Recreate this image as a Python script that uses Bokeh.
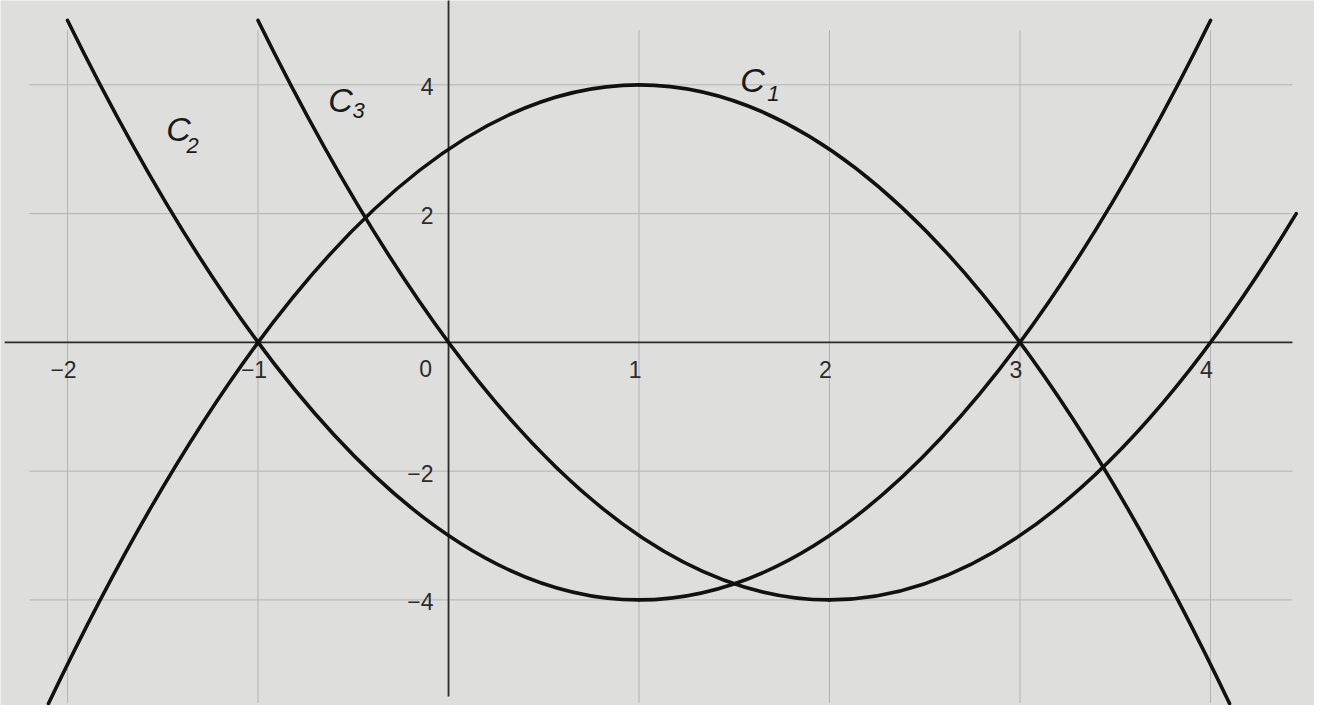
from bokeh.plotting import figure
from bokeh.models import Range1d
from bokeh.core.properties import value
from bokeh.embed import file_html
from bokeh.resources import INLINE

# ---- data: each parabola's start point, vertex and end point ----
c1_start = (-2.1, -5.61)
c1_vertex = (1.0, 4.0)
c1_end = (4.1, -5.61)

c2_start = (-2.0, 5.0)
c2_vertex = (1.0, -4.0)
c2_end = (4.0, 5.0)

c3_start = (-1.0, 5.0)
c3_vertex = (2.0, -4.0)
c3_end = (4.45, 2.0)

x_ticks = [-2, -1, 1, 2, 3, 4]
x_tick_labels = ["\u22122", "\u22121", "1", "2", "3", "4"]
y_ticks = [4, 2, -2, -4]
y_tick_labels = ["4", "2", "\u22122", "\u22124"]
origin_label = "0"

curve_names = ["C", "C", "C"]
curve_subs = ["1", "2", "3"]

# ---- figure ----
W, H = 1314, 705
p = figure(width=W, height=H, output_backend="svg", toolbar_location=None,
           x_range=Range1d(-2.352, 4.546), y_range=Range1d(-5.64, 5.31),
           x_axis_type=None, y_axis_type=None, min_border=0)
p.background_fill_color = "#dededc"
p.border_fill_color = "#dededc"
p.outline_line_color = None
p.xgrid.visible = False
p.ygrid.visible = False

grid_col = "#b3b3b3"
p.segment(x0=x_ticks, y0=[-5.6] * len(x_ticks), x1=x_ticks, y1=[4.85] * len(x_ticks),
          line_color=grid_col, line_width=1)
p.segment(x0=[-2.2] * len(y_ticks), y0=y_ticks, x1=[4.43] * len(y_ticks), y1=y_ticks,
          line_color=grid_col, line_width=1)

# axes
p.segment(x0=[-2.33], y0=[0], x1=[4.43], y1=[0], line_color="#2a2a2a", line_width=1.8)
p.segment(x0=[0], y0=[-5.5], x1=[0], y1=[5.36], line_color="#2a2a2a", line_width=1.8)


# each parabola drawn as two exact quadratic Bezier arcs (start->vertex, vertex->end);
# the control point lies on the vertex tangent, halfway in x
def parabola(start, vertex, end):
    (xs, ys), (h, k), (xe, ye) = start, vertex, end
    p.quadratic(x0=[xs, h], y0=[ys, k], x1=[h, xe], y1=[k, ye],
                cx=[(xs + h) / 2, (h + xe) / 2], cy=[k, k],
                line_color="#111111", line_width=3.6, line_cap="round")


parabola(c1_start, c1_vertex, c1_end)
parabola(c2_start, c2_vertex, c2_end)
parabola(c3_start, c3_vertex, c3_end)

font = value("Liberation Sans")
lab_col = "#2b2b2b"
p.text(x=x_ticks, y=[0] * len(x_ticks), text=x_tick_labels, text_font=font,
       text_font_size="23px", text_color=lab_col, text_align="center",
       text_baseline="middle", x_offset=-4, y_offset=27)
p.text(x=[0], y=[0], text=[origin_label], text_font=font, text_font_size="23px",
       text_color=lab_col, text_align="center", text_baseline="middle",
       x_offset=-23, y_offset=26)
p.text(x=[0] * len(y_ticks), y=y_ticks, text=y_tick_labels, text_font=font,
       text_font_size="23px", text_color=lab_col, text_align="right",
       text_baseline="middle", x_offset=-15, y_offset=2)

# curve labels (C1, C2, C3)
name_x = [1.596, -1.417, -0.567]
name_y = [4.07, 3.31, 3.77]
sub_x = [1.705, -1.344, -0.472]
sub_y = [3.86, 3.06, 3.60]
p.text(x=name_x, y=name_y, text=curve_names, text_font=font, text_font_size="34px",
       text_font_style="italic", text_color="#1a1a1a", text_align="center",
       text_baseline="middle")
p.text(x=sub_x, y=sub_y, text=curve_subs, text_font=font, text_font_size="22px",
       text_font_style="italic", text_color="#1a1a1a", text_align="center",
       text_baseline="middle")

open("out.html", "w").write(file_html(p, INLINE))
